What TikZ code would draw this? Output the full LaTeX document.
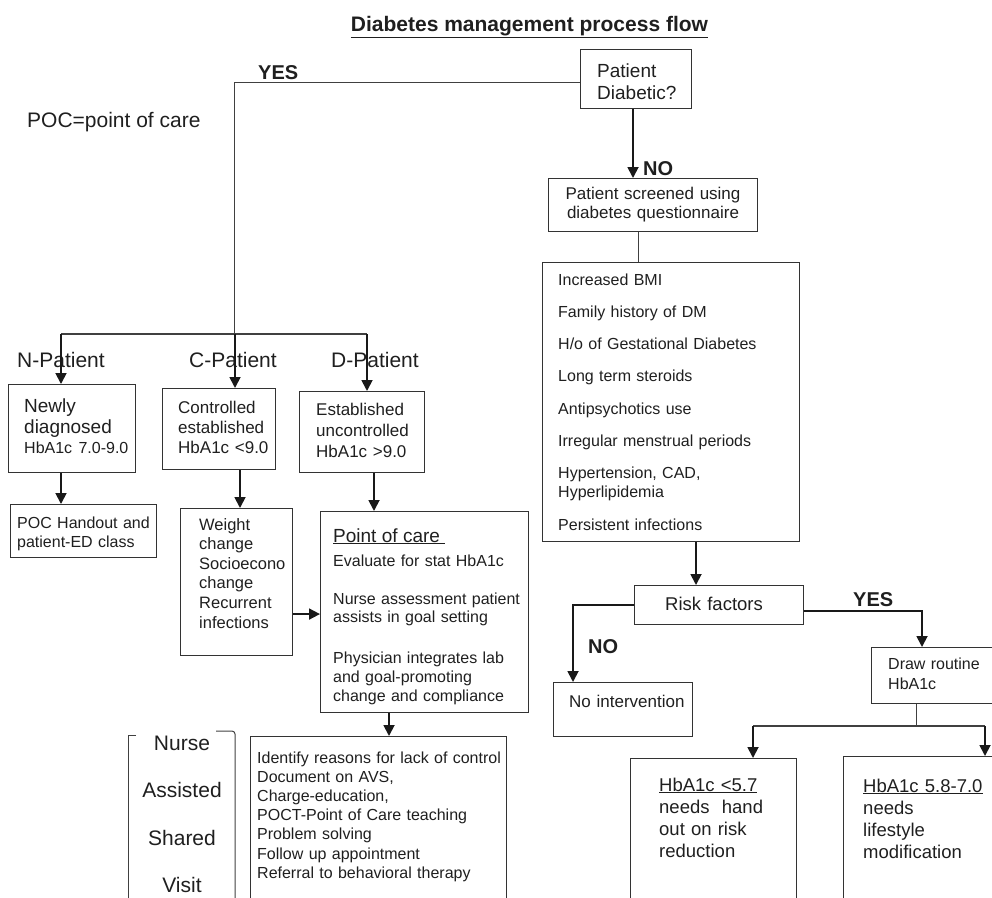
\documentclass[tikz,border=0pt]{standalone}
\usepackage{fontspec}
\setmainfont{Liberation Sans}
\usetikzlibrary{arrows.meta,calc}

\begin{document}
\begin{tikzpicture}[x=1pt,y=-1pt,
  box/.style={draw=black!80,line width=1.1pt,anchor=north west,inner sep=0pt},
  txt/.style={anchor=base west,inner sep=0pt,align=left,text width=260pt,text=black!88},
  lbl/.style={anchor=base west,inner sep=0pt,text=black!88},
  hdr/.style={lbl,font=\fontsize{20}{24}\selectfont\bfseries},
  arr/.style={draw=black!90,line width=1.8pt,-{Triangle[length=11pt,width=11pt]}},
  lnk/.style={draw=black!75,line width=1pt}]
  \useasboundingbox (0,0) rectangle (992,897);
  \clip (0,0) rectangle (992,897);

  % title and note
  \node[lbl,anchor=base,font=\fontsize{21}{25}\selectfont\bfseries] (title) at (529.5,31) {\underline{Diabetes management process flow}};
  \node[lbl,font=\fontsize{21}{25}\selectfont] (pocnote) at (27,127) {POC=point of care};

  % top question
  \node[box,minimum width=111pt,minimum height=59pt] (diab) at (580,49) {};
  \node[txt,font=\fontsize{19}{22}\selectfont] (diabtext) at (597,77) {Patient\\Diabetic?};

  % YES branch to the three patient groups
  \coordinate (yes) at (234,82);
  \coordinate (bN) at (61,334);
  \coordinate (bC) at (235,334);
  \coordinate (bD) at (367,334);
  \draw[lnk] (diab.west |- yes) -- (yes) -- (yes |- bC);
  \draw[lnk,line width=1.4pt] (bN) -- (bD);
  \node[hdr] (yestop) at (258,79) {YES};

  \node[lbl,font=\fontsize{21}{25}\selectfont] (npat) at (17,367) {N-Patient};
  \node[lbl,font=\fontsize{21}{25}\selectfont] (cpat) at (189,367) {C-Patient};
  \node[lbl,font=\fontsize{21}{25}\selectfont] (dpat) at (331,367) {D-Patient};

  \node[box,minimum width=127pt,minimum height=88pt] (newly) at (8,384) {};
  \node[txt,font=\fontsize{19}{21}\selectfont] (newlytext) at (24,412) {Newly\\diagnosed\\[-1pt]{\fontsize{16}{19}\selectfont HbA1c 7.0-9.0}};
  \node[box,minimum width=113pt,minimum height=81pt] (ctrl) at (162,388) {};
  \node[txt,font=\fontsize{17}{20}\selectfont] (ctrltext) at (178,413) {Controlled\\established\\HbA1c <9.0};
  \node[box,minimum width=125pt,minimum height=81pt] (est) at (299,391) {};
  \node[txt,font=\fontsize{17}{21}\selectfont] (esttext) at (316,415) {Established\\uncontrolled\\HbA1c >9.0};

  \draw[arr] (bN) -- (bN |- newly.north);
  \draw[arr] (bC) -- (bC |- ctrl.north);
  \draw[arr] (bD) -- (bD |- est.north);

  % second row on the left
  \node[box,minimum width=146pt,minimum height=53pt] (handout) at (10,504) {};
  \node[txt,font=\fontsize{16}{19}\selectfont] (handouttext) at (17,528) {POC Handout and\\patient-ED class};
  \draw[arr] (bN |- newly.south) -- (bN |- handout.north);

  \node[box,minimum width=112pt,minimum height=147pt] (weight) at (180,508) {};
  \node[txt,font=\fontsize{16.5}{19.6}\selectfont] (weighttext) at (199,530) {Weight\\change\\Socioecono\\change\\Recurrent\\infections};
  \coordinate (cw) at ([xshift=78pt]ctrl.south west);
  \draw[arr] (cw) -- (cw |- weight.north);

  \node[box,minimum width=208pt,minimum height=201pt] (poc) at (320,511) {};
  \node[txt,font=\fontsize{16}{18.7}\selectfont] (poctext) at (333,542) {{\fontsize{19}{22}\selectfont\underline{Point of care\ }}\\[5.3pt]Evaluate for stat HbA1c\\[19.3pt]Nurse assessment patient\\assists in goal setting\\[22.3pt]Physician integrates lab\\and goal-promoting\\change and compliance};
  \coordinate (ep) at ([xshift=75pt]est.south west);
  \draw[arr] (ep) -- (ep |- poc.north);
  \coordinate (wp) at ([yshift=-32pt]weight.east);
  \draw[arr] (wp) -- (wp -| poc.west);

  \node[box,minimum width=256pt,minimum height=200pt] (care) at (250,736) {};
  \node[txt,font=\fontsize{16}{19.2}\selectfont] (caretext) at (257,763) {Identify reasons for lack of control\\Document on AVS,\\Charge-education,\\POCT-Point of Care teaching\\Problem solving\\Follow up appointment\\Referral to behavioral therapy};
  \coordinate (pc) at ([xshift=69pt]poc.south west);
  \draw[arr] (pc) -- (pc |- care.north);

  % bracket
  \draw[lnk] (136,735) -- (128,735) -- (128,910);
  \draw[lnk,rounded corners=3pt] (216,731) -- (235,731) -- (235,910);
  \node[txt,anchor=base,align=center,text width=110pt,font=\fontsize{21}{47.5}\selectfont] (visit) at (182,750) {Nurse\\Assisted\\Shared\\Visit};

  % NO branch: screening
  \node[box,minimum width=209pt,minimum height=53pt] (screen) at (548,178) {};
  \node[txt,anchor=base,align=center,text width=200pt,font=\fontsize{17}{19.5}\selectfont] (screentext) at (653,199) {Patient screened using\\diabetes questionnaire};
  \coordinate (dn) at ([xshift=53pt]diab.south west);
  \draw[arr] (dn) -- (dn |- screen.north);
  \node[hdr] (notop) at (643,175) {NO};

  \node[box,minimum width=257pt,minimum height=279pt] (risklist) at (542,262) {};
  \node[txt,font=\fontsize{16}{19}\selectfont] (risklisttext) at (558,285) {Increased BMI\\[13.3pt]Family history of DM\\[13.3pt]H/o of Gestational Diabetes\\[13.3pt]Long term steroids\\[13.3pt]Antipsychotics use\\[13.3pt]Irregular menstrual periods\\[13.3pt]Hypertension, CAD,\\Hyperlipidemia\\[13.3pt]Persistent infections};
  \coordinate (sq) at ([xshift=90pt]screen.south west);
  \draw[lnk] (sq) -- (sq |- risklist.north);

  \node[box,minimum width=169pt,minimum height=39pt] (risk) at (634,585) {};
  \node[txt,font=\fontsize{18.5}{22}\selectfont] (risktext) at (665,610) {Risk factors};
  \coordinate (rl) at ([xshift=154pt]risklist.south west);
  \draw[arr] (rl) -- (rl |- risk.north);

  \node[box,minimum width=139pt,minimum height=54pt] (noint) at (553,682) {};
  \node[txt,font=\fontsize{17}{20}\selectfont] (nointtext) at (569,707) {No intervention};
  \coordinate (nn) at ([xshift=20pt]noint.north west);
  \draw[arr] (risk.west) -| (nn);
  \node[hdr] (nobot) at (588,653) {NO};

  \node[box,minimum width=140pt,minimum height=56pt] (routine) at (871,647) {};
  \node[txt,font=\fontsize{16}{20}\selectfont] (routinetext) at (888,669) {Draw routine\\HbA1c};
  \coordinate (rr) at ([xshift=51pt]routine.north west);
  \draw[arr] ([yshift=-6pt]risk.east) -| (rr);
  \node[hdr] (yesbot) at (853,606) {YES};

  \node[box,minimum width=166pt,minimum height=200pt] (low) at (630,758) {};
  \node[txt,font=\fontsize{18.5}{22}\selectfont] (lowtext) at (659,791) {\underline{HbA1c <5.7}\\needs\ \ hand\\out on risk\\reduction};
  \node[box,minimum width=170pt,minimum height=200pt] (mid) at (843,756) {};
  \node[txt,font=\fontsize{18.5}{22.3}\selectfont] (midtext) at (863,792) {\underline{HbA1c 5.8-7.0}\\needs\\lifestyle\\modification};

  \coordinate (split) at ([xshift=45pt]routine.south west);
  \coordinate (sL) at (753,726);
  \coordinate (sR) at (985,726);
  \draw[lnk] (split) -- (split |- sL);
  \draw[lnk,line width=1.4pt] (sL) -- (sR);
  \draw[arr] (sL) -- (sL |- low.north);
  \draw[arr] (sR) -- (sR |- mid.north);
\end{tikzpicture}
\end{document}
